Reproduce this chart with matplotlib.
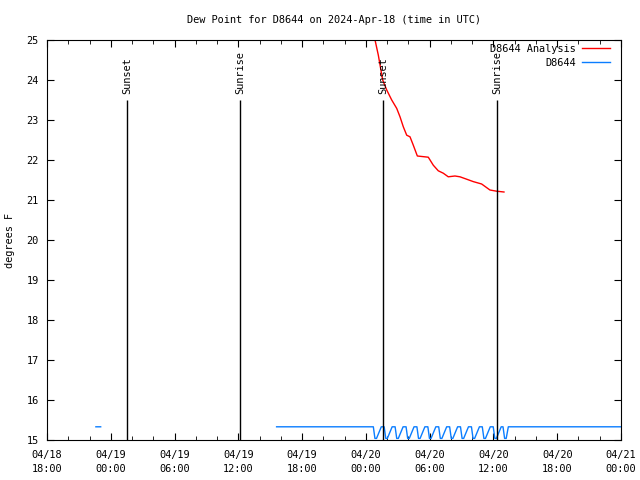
import numpy as np
import pandas as pd
import matplotlib
matplotlib.use("Agg")
import matplotlib.pyplot as plt

plt.rcParams['font.family'] = ['DejaVu Sans Mono']
fs = 7.4

# time base: 2024-04-18 18:00 UTC, offsets are in hours
t0 = pd.Timestamp("2024-04-18 18:00")

# D8644 Analysis (red)
ana_hours = [30.6, 30.86, 31.17, 31.58, 31.96, 32.43, 32.9, 33.21, 33.52, 33.84,
             34.15, 34.46, 34.84, 35.87, 36.34, 36.81, 37.28, 37.75, 38.38,
             38.85, 39.48, 40.1, 40.89, 41.67, 42.3, 42.99]
ana_vals = [25.4, 25.0, 24.62, 24.0, 23.75, 23.5, 23.29, 23.08, 22.83, 22.62,
            22.58, 22.37, 22.1, 22.07, 21.87, 21.73, 21.67, 21.58, 21.6,
            21.58, 21.52, 21.46, 21.4, 21.25, 21.22, 21.2]

# D8644 observations (blue), NaN = gap
obs_hours = [4.6, 5.05, 5.1,
             21.6, 30.7, 30.85, 31.0, 31.45,
             31.72, 31.87, 32.02, 32.47,
             32.75, 32.9, 33.05, 33.5,
             33.78, 33.93, 34.08, 34.53,
             34.8, 34.95, 35.1, 35.55,
             35.83, 35.98, 36.13, 36.58,
             36.85, 37.0, 37.15, 37.6,
             37.88, 38.03, 38.18, 38.63,
             38.9, 39.05, 39.2, 39.65,
             39.93, 40.08, 40.23, 40.68,
             40.95, 41.1, 41.25, 41.7,
             41.98, 42.13, 42.28, 42.73,
             42.9, 43.05, 43.2, 43.4, 54.0]
obs_vals = [15.33, 15.33, np.nan,
            15.33, 15.33, 15.04, 15.04, 15.33,
            15.33, 15.04, 15.04, 15.33,
            15.33, 15.04, 15.04, 15.33,
            15.33, 15.04, 15.04, 15.33,
            15.33, 15.04, 15.04, 15.33,
            15.33, 15.04, 15.04, 15.33,
            15.33, 15.04, 15.04, 15.33,
            15.33, 15.04, 15.04, 15.33,
            15.33, 15.04, 15.04, 15.33,
            15.33, 15.04, 15.04, 15.33,
            15.33, 15.04, 15.04, 15.33,
            15.33, 15.04, 15.04, 15.33,
            15.33, 15.04, 15.04, 15.33, 15.33]

# sun events
sun_hours = [7.53, 18.16, 31.6, 42.33]
sun_labels = ["Sunset", "Sunrise", "Sunset", "Sunrise"]

tick_labels = ["04/18\n18:00", "04/19\n00:00", "04/19\n06:00", "04/19\n12:00",
               "04/19\n18:00", "04/20\n00:00", "04/20\n06:00", "04/20\n12:00",
               "04/20\n18:00", "04/21\n00:00"]

def to_time(hours):
    return [t0 + pd.Timedelta(hours=h) for h in hours]

fig = plt.figure(figsize=(6.4, 4.8), dpi=100)
ax = fig.add_axes([47/640, 40/480, 574/640, 400/480])

ax.plot(to_time(ana_hours), ana_vals, color='#ff0000', lw=1, label='D8644 Analysis')
ax.plot(to_time(obs_hours), obs_vals, color='#0a7dff', lw=1, label='D8644')

for h, lab in zip(sun_hours, sun_labels):
    t = t0 + pd.Timedelta(hours=h)
    ax.vlines(t, 15, 23.5, color='black', lw=1)
    ax.text(t, 23.65, lab, rotation=90, ha='center', va='bottom', fontsize=fs)

ax.set_xlim(t0, t0 + pd.Timedelta(hours=54))
ax.set_ylim(15, 25)
major = to_time([0, 6, 12, 18, 24, 30, 36, 42, 48, 54])
ax.set_xticks(major)
ax.set_xticklabels(tick_labels, fontsize=fs, linespacing=1.5)
ax.set_xticks(to_time([2, 4, 8, 10, 14, 16, 20, 22, 26, 28, 32, 34,
                       38, 40, 44, 46, 50, 52]), minor=True)
ax.set_yticks(range(15, 26))
ax.tick_params(axis='y', labelsize=fs, pad=6)
ax.tick_params(axis='x', pad=7)
ax.tick_params(which='both', direction='in', top=True, right=True)
ax.tick_params(which='major', length=5)
ax.tick_params(which='minor', length=3)
ax.set_ylabel("degrees F", fontsize=fs, labelpad=8)
ax.set_title("Dew Point for D8644 on 2024-Apr-18 (time in UTC)", fontsize=fs, pad=12)

ax.legend(loc='upper right', bbox_to_anchor=(0.984, 0.995), frameon=False,
          markerfirst=False, fontsize=fs, handlelength=2.7, handletextpad=0.6,
          borderaxespad=0.0, labelspacing=0.35, borderpad=0.2)

fig.savefig("out.png", dpi=100)
